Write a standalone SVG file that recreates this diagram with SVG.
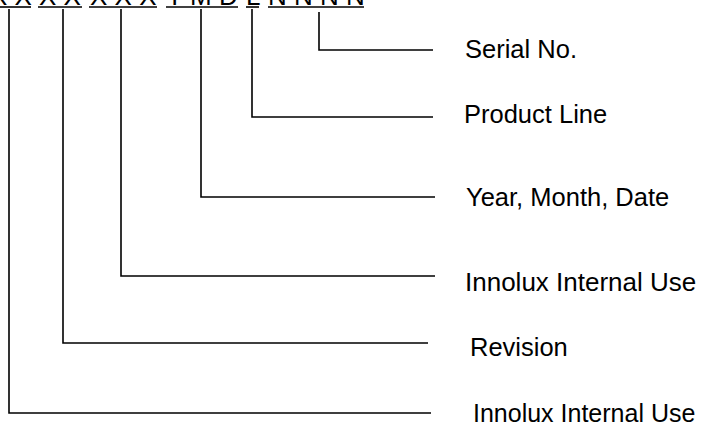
<svg xmlns="http://www.w3.org/2000/svg" width="709" height="427" viewBox="0 0 709 427">
<style>
.lbl{font-family:"Liberation Sans",Arial,sans-serif;font-size:25.5px;fill:#000}
.code{font-family:"Liberation Sans",Arial,sans-serif;font-size:26px;fill:#000}
.ul{stroke:#000;stroke-width:1.6;fill:none}
.con{stroke:#000;stroke-width:1.6;fill:none}
</style>
<rect width="709" height="427" fill="#fff"/>
<g id="code">
<text class="code" x="-10" y="5" xml:space="preserve">X X</text>
<text class="code" x="39" y="5" xml:space="preserve">X X</text>
<text class="code" x="90" y="5" xml:space="preserve">X X X</text>
<text class="code" x="166" y="5" xml:space="preserve">Y M D</text>
<text class="code" x="246" y="5">L</text>
<text class="code" x="268" y="5" xml:space="preserve">N N N N</text>
<line class="ul" x1="0" y1="7" x2="31" y2="7"/>
<line class="ul" x1="38" y1="7" x2="82" y2="7"/>
<line class="ul" x1="89" y1="7" x2="157" y2="7"/>
<line class="ul" x1="166" y1="7" x2="238" y2="7"/>
<line class="ul" x1="246" y1="7" x2="259" y2="7"/>
<line class="ul" x1="268" y1="7" x2="364" y2="7"/>
</g>
<g id="connectors">
<path class="con" d="M319,12 V50 H433"/>
<path class="con" d="M252,9 V117 H433"/>
<path class="con" d="M201,9 V197 H435"/>
<path class="con" d="M121,9 V276 H435"/>
<path class="con" d="M63,9 V343 H428"/>
<path class="con" d="M9,9 V413 H431"/>
</g>
<g id="serial"><text class="lbl" x="465" y="58">Serial No.</text></g>
<g id="product"><text class="lbl" x="464" y="123">Product Line</text></g>
<g id="date"><text class="lbl" x="466" y="206">Year, Month, Date</text></g>
<g id="internal1"><text class="lbl" x="465" y="291" style="font-size:26px">Innolux Internal Use</text></g>
<g id="revision"><text class="lbl" x="470" y="356">Revision</text></g>
<g id="internal2"><text class="lbl" x="473" y="422" style="font-size:25px">Innolux Internal Use</text></g>
</svg>
